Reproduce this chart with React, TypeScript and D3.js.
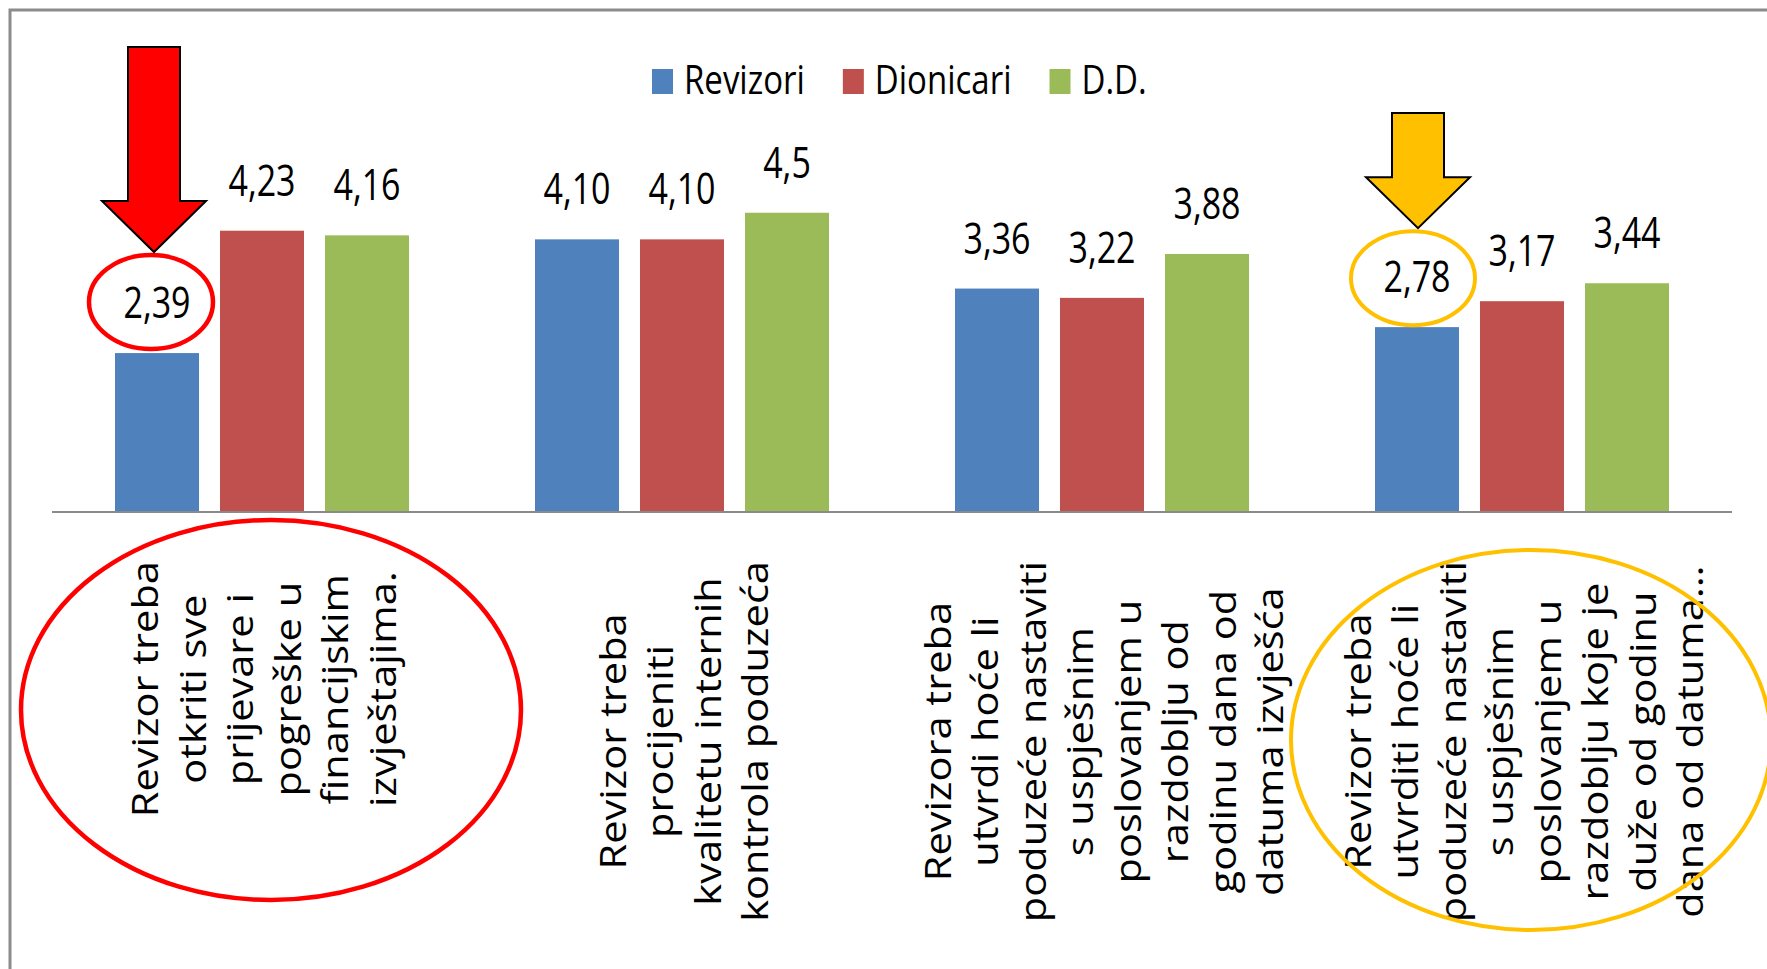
import * as d3 from "d3";

// category labels, already broken into the lines shown under the axis
const categories = [
  ["Revizor treba", "otkriti sve", "prijevare i", "pogreške u", "financijskim", "izvještajima."],
  ["Revizor treba", "procijeniti", "kvalitetu internih", "kontrola poduzeća"],
  ["Revizora treba", "utvrdi hoće li", "poduzeće nastaviti", "s uspješnim", "poslovanjem u", "razdoblju od", "godinu dana od", "datuma izvješća"],
  ["Revizor treba", "utvrditi hoće li", "poduzeće nastaviti", "s uspješnim", "poslovanjem u", "razdoblju koje je", "duže od godinu", "dana od datuma..."],
];
const seriesNames = ["Revizori", "Dionicari", "D.D."];
const seriesColors = ["#4F81BD", "#C0504D", "#9BBB59"];

const revizori = [2.39, 4.1, 3.36, 2.78];
const dionicari = [4.23, 4.1, 3.22, 3.17];
const dd = [4.16, 4.5, 3.88, 3.44];

const revizoriLabels = ["2,39", "4,10", "3,36", "2,78"];
const dionicariLabels = ["4,23", "4,10", "3,22", "3,17"];
const ddLabels = ["4,16", "4,5", "3,88", "3,44"];

const seriesValues = [revizori, dionicari, dd];
const seriesLabels = [revizoriLabels, dionicariLabels, ddLabels];

const FONT = '"Open Sans", sans-serif';
const W = 1767;
const H = 969;

const ctx = document.createElement("canvas").getContext("2d");
const textWidth = (t: string, size: number) => {
  if (!ctx) return t.length * size * 0.55;
  ctx.font = `${size}px "Open Sans"`;
  return ctx.measureText(t).width;
};

function App() {
  const baseline = 512;
  const keys = categories.map((c, i) => `c${i}`);

  const x0 = d3.scaleBand().domain(keys).range([52, 1732]).paddingInner(0).paddingOuter(0);
  const x1 = d3
    .scaleBand()
    .domain(seriesNames)
    .range([0, x0.bandwidth()])
    .paddingInner(0.2)
    .paddingOuter(0.6);
  const y = d3.scaleLinear().domain([0, 5]).range([baseline, 179.5]);

  // legend positions, laid out one after the other
  const legendSize = 33;
  let lx = 652;
  const legend = seriesNames.map((name, i) => {
    const item = { name, color: seriesColors[i], x: lx };
    lx += 32 + textWidth(name, legendSize) + 38;
    return item;
  });

  const labelSize = 36;
  const labelStretch = 1.155;
  const lineH = 47.5;

  const blueCenter = (ci: number) => x0(keys[ci])! + x1("Revizori")! + x1.bandwidth() / 2;
  const blueLabelY = (ci: number) => y(revizori[ci]) - 35;

  const arrow = (tipX: number, tipY: number, top: number, color: string) => {
    const sw = 26, hw = 52, hl = 51;
    const p = d3.path();
    p.moveTo(tipX - sw, top);
    p.lineTo(tipX + sw, top);
    p.lineTo(tipX + sw, tipY - hl);
    p.lineTo(tipX + hw, tipY - hl);
    p.lineTo(tipX, tipY);
    p.lineTo(tipX - hw, tipY - hl);
    p.lineTo(tipX - sw, tipY - hl);
    p.closePath();
    return <path d={p.toString()} fill={color} stroke="#000" strokeWidth={2} />;
  };

  return (
    <svg
      width={W}
      height={H}
      style={{ position: "absolute", left: 0, top: 0, display: "block", background: "#fff" }}
    >
      <rect x={10} y={10} width={W + 20} height={H + 20} fill="#fff" stroke="#8c8c8c" strokeWidth={3} />

      {/* legend */}
      {legend.map((d) => (
        <g key={d.name}>
          <rect x={d.x} y={69} width={21} height={25} fill={d.color} />
          <text
            transform={`translate(${d.x + 32},94) scale(1,1.22)`}
            fontFamily={FONT}
            fontSize={legendSize}
            fill="#000"
          >
            {d.name}
          </text>
        </g>
      ))}

      {/* bars */}
      {keys.map((k, ci) => (
        <g key={k} transform={`translate(${x0(k)},0)`}>
          {seriesNames.map((s, si) => {
            const v = seriesValues[si][ci];
            const bx = x1(s)!;
            return (
              <g key={s}>
                <rect
                  x={bx}
                  y={y(v)}
                  width={x1.bandwidth()}
                  height={baseline - y(v)}
                  fill={seriesColors[si]}
                />
                <text
                  transform={`translate(${bx + x1.bandwidth() / 2},${y(v) - 35}) scale(1,1.28)`}
                  textAnchor="middle"
                  fontFamily={FONT}
                  fontSize={34}
                  fill="#000"
                >
                  {seriesLabels[si][ci]}
                </text>
              </g>
            );
          })}
        </g>
      ))}

      {/* axis line */}
      <line x1={x0.range()[0]} x2={x0.range()[1]} y1={baseline} y2={baseline} stroke="#8a8a8a" strokeWidth={2} />

      {/* rotated category labels */}
      {categories.map((lines, ci) => {
        const cx = x0(keys[ci])! + x0.bandwidth() / 2;
        const longest = d3.max(lines, (l) => textWidth(l, labelSize))! * labelStretch;
        const cy = 561 + longest / 2;
        const firstX = cx + 15 - ((lines.length - 1) * lineH) / 2;
        return (
          <g key={ci}>
            {lines.map((l, li) => (
              <text
                key={li}
                transform={`translate(${firstX + li * lineH},${cy}) rotate(-90) scale(${labelStretch},1)`}
                textAnchor="middle"
                fontFamily={FONT}
                fontSize={labelSize}
                fill="#000"
              >
                {l}
              </text>
            ))}
          </g>
        );
      })}

      {/* annotations */}
      <ellipse cx={blueCenter(0) - 6} cy={blueLabelY(0) - 16} rx={62} ry={47} fill="none" stroke="#FF0000" strokeWidth={4.5} />
      {arrow(blueCenter(0) - 3, blueLabelY(0) - 66, 47, "#FF0000")}
      <ellipse cx={x0(keys[0])! + x0.bandwidth() / 2 + 9} cy={710} rx={250} ry={190} fill="none" stroke="#FF0000" strokeWidth={4.5} />

      <ellipse cx={blueCenter(3) - 4} cy={blueLabelY(3) - 14} rx={62} ry={47} fill="none" stroke="#FFC000" strokeWidth={4} />
      {arrow(blueCenter(3) + 1, blueLabelY(3) - 64, 113, "#FFC000")}
      <ellipse cx={x0(keys[3])! + x0.bandwidth() / 2 + 9} cy={740} rx={240} ry={190} fill="none" stroke="#FFC000" strokeWidth={4} />
    </svg>
  );
}

export default App;
